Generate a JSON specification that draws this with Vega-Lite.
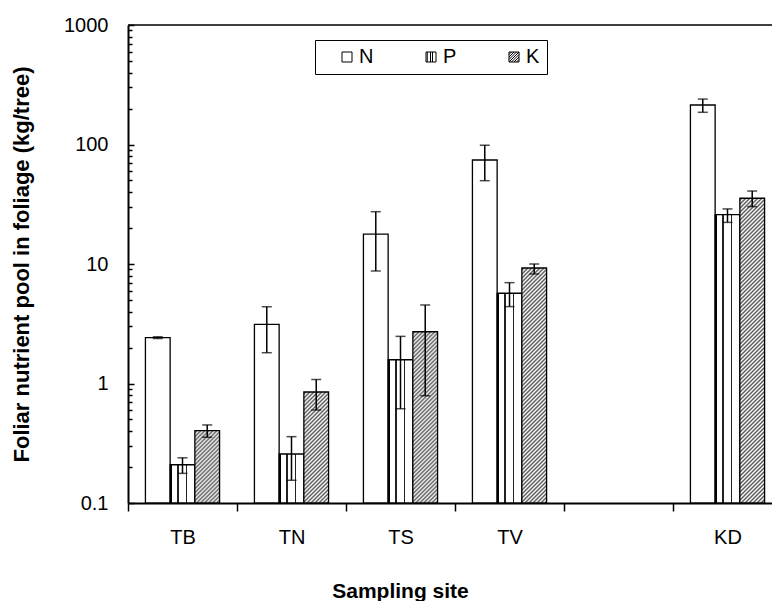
{
"$schema":"https://vega.github.io/schema/vega-lite/v6.json",
"width":644,"height":478,"autosize":"none",
"padding":{"left":128,"top":25,"right":0,"bottom":98},
"background":"white",
"config":{"view":{"stroke":null},"font":"Liberation Sans","axis":{"labelFont":"Liberation Sans","titleFont":"Liberation Sans","labelColor":"black","titleColor":"black","grid":false},"legend":{"labelFont":"Liberation Sans","titleFont":"Liberation Sans"}},
"data":{"values":[
{"site":"TB","nutrient":"N","value":2.42,"lo":2.38,"hi":2.46},
{"site":"TB","nutrient":"P","value":0.209,"lo":0.177,"hi":0.239},
{"site":"TB","nutrient":"K","value":0.403,"lo":0.355,"hi":0.45},
{"site":"TN","nutrient":"N","value":3.13,"lo":1.81,"hi":4.39},
{"site":"TN","nutrient":"P","value":0.257,"lo":0.155,"hi":0.359},
{"site":"TN","nutrient":"K","value":0.849,"lo":0.6,"hi":1.08},
{"site":"TS","nutrient":"N","value":17.8,"lo":8.74,"hi":27.4},
{"site":"TS","nutrient":"P","value":1.58,"lo":0.615,"hi":2.48},
{"site":"TS","nutrient":"K","value":2.71,"lo":0.79,"hi":4.54},
{"site":"TV","nutrient":"N","value":74.2,"lo":49.8,"hi":98.6},
{"site":"TV","nutrient":"P","value":5.69,"lo":4.4,"hi":6.98},
{"site":"TV","nutrient":"K","value":9.26,"lo":8.25,"hi":10.0},
{"site":"KD","nutrient":"N","value":214,"lo":186,"hi":240},
{"site":"KD","nutrient":"P","value":25.9,"lo":22.3,"hi":28.9},
{"site":"KD","nutrient":"K","value":35.5,"lo":30.2,"hi":40.8}
]},
"layer":[
{"mark":{"type":"bar","stroke":"black","strokeWidth":1.3},
"encoding":{
"x":{"field":"site","type":"nominal","scale":{"domain":["TB","TN","TS","TV"," ","KD"],"range":[0,654],"paddingInner":0,"paddingOuter":0},"axis":{"title":"Sampling site","titleFontSize":21,"titleFontWeight":"bold","titleX":272,"titleY":94,"titleBaseline":"alphabetic","labelFontSize":20,"labelPadding":16,"labelAngle":0,"tickBand":"extent","tickSize":8,"tickWidth":1.5,"tickColor":"black","domainWidth":2,"domainColor":"black"}},
"xOffset":{"field":"nutrient","type":"nominal","scale":{"domain":["N","P","K"],"paddingInner":0,"paddingOuter":0.705}},
"y":{"field":"value","type":"quantitative","scale":{"type":"log","domain":[0.1,1000],"nice":false},"axis":{"orient":"left","values":[0.1,1,10,100,1000],"format":"~g","tickSize":-6,"tickWidth":1.5,"tickColor":"black","domainColor":"black","domainWidth":2,"labelFontSize":20,"labelPadding":26,"title":"Foliar nutrient pool in foliage (kg/tree)","titleFontSize":22,"titleFontWeight":"bold","titleX":-100,"titleY":239,"titleBaseline":"alphabetic"}},
"y2":{"datum":0.1},
"fill":{"condition":[
{"test":"datum.nutrient === 'P'","value":{"gradient":"linear","x1":0,"y1":0,"x2":1,"y2":0,"stops":[{"offset":0,"color":"#000"},{"offset":0.08,"color":"#000"},{"offset":0.08,"color":"#fff"},{"offset":0.29,"color":"#fff"},{"offset":0.29,"color":"#222"},{"offset":0.35,"color":"#222"},{"offset":0.35,"color":"#fff"},{"offset":0.63,"color":"#fff"},{"offset":0.63,"color":"#222"},{"offset":0.69,"color":"#222"},{"offset":0.69,"color":"#fff"},{"offset":1,"color":"#fff"}]}},
{"test":"datum.nutrient === 'K' && datum.site === 'TB'","value":{"gradient":"linear","x1":0,"y1":0,"x2":0.4234,"y2":1.2384,"stops":[{"offset":0,"color":"#fff"},{"offset":0.02,"color":"#555"},{"offset":0.04,"color":"#fff"},{"offset":0.06,"color":"#555"},{"offset":0.08,"color":"#fff"},{"offset":0.1,"color":"#555"},{"offset":0.12,"color":"#fff"},{"offset":0.14,"color":"#555"},{"offset":0.16,"color":"#fff"},{"offset":0.18,"color":"#555"},{"offset":0.2,"color":"#fff"},{"offset":0.22,"color":"#555"},{"offset":0.24,"color":"#fff"},{"offset":0.26,"color":"#555"},{"offset":0.28,"color":"#fff"},{"offset":0.3,"color":"#555"},{"offset":0.32,"color":"#fff"},{"offset":0.34,"color":"#555"},{"offset":0.36,"color":"#fff"},{"offset":0.38,"color":"#555"},{"offset":0.4,"color":"#fff"},{"offset":0.42,"color":"#555"},{"offset":0.44,"color":"#fff"},{"offset":0.46,"color":"#555"},{"offset":0.48,"color":"#fff"},{"offset":0.5,"color":"#555"},{"offset":0.52,"color":"#fff"},{"offset":0.54,"color":"#555"},{"offset":0.56,"color":"#fff"},{"offset":0.58,"color":"#555"},{"offset":0.6,"color":"#fff"},{"offset":0.62,"color":"#555"},{"offset":0.64,"color":"#fff"},{"offset":0.66,"color":"#555"},{"offset":0.68,"color":"#fff"},{"offset":0.7,"color":"#555"},{"offset":0.72,"color":"#fff"},{"offset":0.74,"color":"#555"},{"offset":0.76,"color":"#fff"},{"offset":0.78,"color":"#555"},{"offset":0.8,"color":"#fff"},{"offset":0.82,"color":"#555"},{"offset":0.84,"color":"#fff"},{"offset":0.86,"color":"#555"},{"offset":0.88,"color":"#fff"},{"offset":0.9,"color":"#555"},{"offset":0.92,"color":"#fff"},{"offset":0.94,"color":"#555"},{"offset":0.96,"color":"#fff"},{"offset":0.98,"color":"#555"},{"offset":1,"color":"#fff"}]}},
{"test":"datum.nutrient === 'K' && datum.site === 'TN'","value":{"gradient":"linear","x1":0,"y1":0,"x2":0.38232,"y2":1.71673,"stops":[{"offset":0,"color":"#fff"},{"offset":0.01,"color":"#555"},{"offset":0.02,"color":"#fff"},{"offset":0.03,"color":"#555"},{"offset":0.04,"color":"#fff"},{"offset":0.05,"color":"#555"},{"offset":0.06,"color":"#fff"},{"offset":0.07,"color":"#555"},{"offset":0.08,"color":"#fff"},{"offset":0.09,"color":"#555"},{"offset":0.1,"color":"#fff"},{"offset":0.11,"color":"#555"},{"offset":0.12,"color":"#fff"},{"offset":0.13,"color":"#555"},{"offset":0.14,"color":"#fff"},{"offset":0.15,"color":"#555"},{"offset":0.16,"color":"#fff"},{"offset":0.17,"color":"#555"},{"offset":0.18,"color":"#fff"},{"offset":0.19,"color":"#555"},{"offset":0.2,"color":"#fff"},{"offset":0.21,"color":"#555"},{"offset":0.22,"color":"#fff"},{"offset":0.23,"color":"#555"},{"offset":0.24,"color":"#fff"},{"offset":0.25,"color":"#555"},{"offset":0.26,"color":"#fff"},{"offset":0.27,"color":"#555"},{"offset":0.28,"color":"#fff"},{"offset":0.29,"color":"#555"},{"offset":0.3,"color":"#fff"},{"offset":0.31,"color":"#555"},{"offset":0.32,"color":"#fff"},{"offset":0.33,"color":"#555"},{"offset":0.34,"color":"#fff"},{"offset":0.35,"color":"#555"},{"offset":0.36,"color":"#fff"},{"offset":0.37,"color":"#555"},{"offset":0.38,"color":"#fff"},{"offset":0.39,"color":"#555"},{"offset":0.4,"color":"#fff"},{"offset":0.41,"color":"#555"},{"offset":0.42,"color":"#fff"},{"offset":0.43,"color":"#555"},{"offset":0.44,"color":"#fff"},{"offset":0.45,"color":"#555"},{"offset":0.46,"color":"#fff"},{"offset":0.47,"color":"#555"},{"offset":0.48,"color":"#fff"},{"offset":0.49,"color":"#555"},{"offset":0.5,"color":"#fff"},{"offset":0.51,"color":"#555"},{"offset":0.52,"color":"#fff"},{"offset":0.53,"color":"#555"},{"offset":0.54,"color":"#fff"},{"offset":0.55,"color":"#555"},{"offset":0.56,"color":"#fff"},{"offset":0.57,"color":"#555"},{"offset":0.58,"color":"#fff"},{"offset":0.59,"color":"#555"},{"offset":0.6,"color":"#fff"},{"offset":0.61,"color":"#555"},{"offset":0.62,"color":"#fff"},{"offset":0.63,"color":"#555"},{"offset":0.64,"color":"#fff"},{"offset":0.65,"color":"#555"},{"offset":0.66,"color":"#fff"},{"offset":0.67,"color":"#555"},{"offset":0.68,"color":"#fff"},{"offset":0.69,"color":"#555"},{"offset":0.7,"color":"#fff"},{"offset":0.71,"color":"#555"},{"offset":0.72,"color":"#fff"},{"offset":0.73,"color":"#555"},{"offset":0.74,"color":"#fff"},{"offset":0.75,"color":"#555"},{"offset":0.76,"color":"#fff"},{"offset":0.77,"color":"#555"},{"offset":0.78,"color":"#fff"},{"offset":0.79,"color":"#555"},{"offset":0.8,"color":"#fff"},{"offset":0.81,"color":"#555"},{"offset":0.82,"color":"#fff"},{"offset":0.83,"color":"#555"},{"offset":0.84,"color":"#fff"},{"offset":0.85,"color":"#555"},{"offset":0.86,"color":"#fff"},{"offset":0.87,"color":"#555"},{"offset":0.88,"color":"#fff"},{"offset":0.89,"color":"#555"},{"offset":0.9,"color":"#fff"},{"offset":0.91,"color":"#555"},{"offset":0.92,"color":"#fff"},{"offset":0.93,"color":"#555"},{"offset":0.94,"color":"#fff"},{"offset":0.95,"color":"#555"},{"offset":0.96,"color":"#fff"},{"offset":0.97,"color":"#555"},{"offset":0.98,"color":"#fff"},{"offset":0.99,"color":"#555"},{"offset":1,"color":"#fff"}]}},
{"test":"datum.nutrient === 'K' && datum.site === 'TS'","value":{"gradient":"linear","x1":0,"y1":0,"x2":0.16524,"y2":1.14439,"stops":[{"offset":0,"color":"#fff"},{"offset":0.01,"color":"#555"},{"offset":0.02,"color":"#fff"},{"offset":0.03,"color":"#555"},{"offset":0.04,"color":"#fff"},{"offset":0.05,"color":"#555"},{"offset":0.06,"color":"#fff"},{"offset":0.07,"color":"#555"},{"offset":0.08,"color":"#fff"},{"offset":0.09,"color":"#555"},{"offset":0.1,"color":"#fff"},{"offset":0.11,"color":"#555"},{"offset":0.12,"color":"#fff"},{"offset":0.13,"color":"#555"},{"offset":0.14,"color":"#fff"},{"offset":0.15,"color":"#555"},{"offset":0.16,"color":"#fff"},{"offset":0.17,"color":"#555"},{"offset":0.18,"color":"#fff"},{"offset":0.19,"color":"#555"},{"offset":0.2,"color":"#fff"},{"offset":0.21,"color":"#555"},{"offset":0.22,"color":"#fff"},{"offset":0.23,"color":"#555"},{"offset":0.24,"color":"#fff"},{"offset":0.25,"color":"#555"},{"offset":0.26,"color":"#fff"},{"offset":0.27,"color":"#555"},{"offset":0.28,"color":"#fff"},{"offset":0.29,"color":"#555"},{"offset":0.3,"color":"#fff"},{"offset":0.31,"color":"#555"},{"offset":0.32,"color":"#fff"},{"offset":0.33,"color":"#555"},{"offset":0.34,"color":"#fff"},{"offset":0.35,"color":"#555"},{"offset":0.36,"color":"#fff"},{"offset":0.37,"color":"#555"},{"offset":0.38,"color":"#fff"},{"offset":0.39,"color":"#555"},{"offset":0.4,"color":"#fff"},{"offset":0.41,"color":"#555"},{"offset":0.42,"color":"#fff"},{"offset":0.43,"color":"#555"},{"offset":0.44,"color":"#fff"},{"offset":0.45,"color":"#555"},{"offset":0.46,"color":"#fff"},{"offset":0.47,"color":"#555"},{"offset":0.48,"color":"#fff"},{"offset":0.49,"color":"#555"},{"offset":0.5,"color":"#fff"},{"offset":0.51,"color":"#555"},{"offset":0.52,"color":"#fff"},{"offset":0.53,"color":"#555"},{"offset":0.54,"color":"#fff"},{"offset":0.55,"color":"#555"},{"offset":0.56,"color":"#fff"},{"offset":0.57,"color":"#555"},{"offset":0.58,"color":"#fff"},{"offset":0.59,"color":"#555"},{"offset":0.6,"color":"#fff"},{"offset":0.61,"color":"#555"},{"offset":0.62,"color":"#fff"},{"offset":0.63,"color":"#555"},{"offset":0.64,"color":"#fff"},{"offset":0.65,"color":"#555"},{"offset":0.66,"color":"#fff"},{"offset":0.67,"color":"#555"},{"offset":0.68,"color":"#fff"},{"offset":0.69,"color":"#555"},{"offset":0.7,"color":"#fff"},{"offset":0.71,"color":"#555"},{"offset":0.72,"color":"#fff"},{"offset":0.73,"color":"#555"},{"offset":0.74,"color":"#fff"},{"offset":0.75,"color":"#555"},{"offset":0.76,"color":"#fff"},{"offset":0.77,"color":"#555"},{"offset":0.78,"color":"#fff"},{"offset":0.79,"color":"#555"},{"offset":0.8,"color":"#fff"},{"offset":0.81,"color":"#555"},{"offset":0.82,"color":"#fff"},{"offset":0.83,"color":"#555"},{"offset":0.84,"color":"#fff"},{"offset":0.85,"color":"#555"},{"offset":0.86,"color":"#fff"},{"offset":0.87,"color":"#555"},{"offset":0.88,"color":"#fff"},{"offset":0.89,"color":"#555"},{"offset":0.9,"color":"#fff"},{"offset":0.91,"color":"#555"},{"offset":0.92,"color":"#fff"},{"offset":0.93,"color":"#555"},{"offset":0.94,"color":"#fff"},{"offset":0.95,"color":"#555"},{"offset":0.96,"color":"#fff"},{"offset":0.97,"color":"#555"},{"offset":0.98,"color":"#fff"},{"offset":0.99,"color":"#555"},{"offset":1,"color":"#fff"}]}},
{"test":"datum.nutrient === 'K' && datum.site === 'TV'","value":{"gradient":"linear","x1":0,"y1":0,"x2":0.17709,"y2":1.6835,"stops":[{"offset":0,"color":"#fff"},{"offset":0.005,"color":"#555"},{"offset":0.01,"color":"#fff"},{"offset":0.015,"color":"#555"},{"offset":0.02,"color":"#fff"},{"offset":0.025,"color":"#555"},{"offset":0.03,"color":"#fff"},{"offset":0.035,"color":"#555"},{"offset":0.04,"color":"#fff"},{"offset":0.045,"color":"#555"},{"offset":0.05,"color":"#fff"},{"offset":0.055,"color":"#555"},{"offset":0.06,"color":"#fff"},{"offset":0.065,"color":"#555"},{"offset":0.07,"color":"#fff"},{"offset":0.075,"color":"#555"},{"offset":0.08,"color":"#fff"},{"offset":0.085,"color":"#555"},{"offset":0.09,"color":"#fff"},{"offset":0.095,"color":"#555"},{"offset":0.1,"color":"#fff"},{"offset":0.105,"color":"#555"},{"offset":0.11,"color":"#fff"},{"offset":0.115,"color":"#555"},{"offset":0.12,"color":"#fff"},{"offset":0.125,"color":"#555"},{"offset":0.13,"color":"#fff"},{"offset":0.135,"color":"#555"},{"offset":0.14,"color":"#fff"},{"offset":0.145,"color":"#555"},{"offset":0.15,"color":"#fff"},{"offset":0.155,"color":"#555"},{"offset":0.16,"color":"#fff"},{"offset":0.165,"color":"#555"},{"offset":0.17,"color":"#fff"},{"offset":0.175,"color":"#555"},{"offset":0.18,"color":"#fff"},{"offset":0.185,"color":"#555"},{"offset":0.19,"color":"#fff"},{"offset":0.195,"color":"#555"},{"offset":0.2,"color":"#fff"},{"offset":0.205,"color":"#555"},{"offset":0.21,"color":"#fff"},{"offset":0.215,"color":"#555"},{"offset":0.22,"color":"#fff"},{"offset":0.225,"color":"#555"},{"offset":0.23,"color":"#fff"},{"offset":0.235,"color":"#555"},{"offset":0.24,"color":"#fff"},{"offset":0.245,"color":"#555"},{"offset":0.25,"color":"#fff"},{"offset":0.255,"color":"#555"},{"offset":0.26,"color":"#fff"},{"offset":0.265,"color":"#555"},{"offset":0.27,"color":"#fff"},{"offset":0.275,"color":"#555"},{"offset":0.28,"color":"#fff"},{"offset":0.285,"color":"#555"},{"offset":0.29,"color":"#fff"},{"offset":0.295,"color":"#555"},{"offset":0.3,"color":"#fff"},{"offset":0.305,"color":"#555"},{"offset":0.31,"color":"#fff"},{"offset":0.315,"color":"#555"},{"offset":0.32,"color":"#fff"},{"offset":0.325,"color":"#555"},{"offset":0.33,"color":"#fff"},{"offset":0.335,"color":"#555"},{"offset":0.34,"color":"#fff"},{"offset":0.345,"color":"#555"},{"offset":0.35,"color":"#fff"},{"offset":0.355,"color":"#555"},{"offset":0.36,"color":"#fff"},{"offset":0.365,"color":"#555"},{"offset":0.37,"color":"#fff"},{"offset":0.375,"color":"#555"},{"offset":0.38,"color":"#fff"},{"offset":0.385,"color":"#555"},{"offset":0.39,"color":"#fff"},{"offset":0.395,"color":"#555"},{"offset":0.4,"color":"#fff"},{"offset":0.405,"color":"#555"},{"offset":0.41,"color":"#fff"},{"offset":0.415,"color":"#555"},{"offset":0.42,"color":"#fff"},{"offset":0.425,"color":"#555"},{"offset":0.43,"color":"#fff"},{"offset":0.435,"color":"#555"},{"offset":0.44,"color":"#fff"},{"offset":0.445,"color":"#555"},{"offset":0.45,"color":"#fff"},{"offset":0.455,"color":"#555"},{"offset":0.46,"color":"#fff"},{"offset":0.465,"color":"#555"},{"offset":0.47,"color":"#fff"},{"offset":0.475,"color":"#555"},{"offset":0.48,"color":"#fff"},{"offset":0.485,"color":"#555"},{"offset":0.49,"color":"#fff"},{"offset":0.495,"color":"#555"},{"offset":0.5,"color":"#fff"},{"offset":0.505,"color":"#555"},{"offset":0.51,"color":"#fff"},{"offset":0.515,"color":"#555"},{"offset":0.52,"color":"#fff"},{"offset":0.525,"color":"#555"},{"offset":0.53,"color":"#fff"},{"offset":0.535,"color":"#555"},{"offset":0.54,"color":"#fff"},{"offset":0.545,"color":"#555"},{"offset":0.55,"color":"#fff"},{"offset":0.555,"color":"#555"},{"offset":0.56,"color":"#fff"},{"offset":0.565,"color":"#555"},{"offset":0.57,"color":"#fff"},{"offset":0.575,"color":"#555"},{"offset":0.58,"color":"#fff"},{"offset":0.585,"color":"#555"},{"offset":0.59,"color":"#fff"},{"offset":0.595,"color":"#555"},{"offset":0.6,"color":"#fff"},{"offset":0.605,"color":"#555"},{"offset":0.61,"color":"#fff"},{"offset":0.615,"color":"#555"},{"offset":0.62,"color":"#fff"},{"offset":0.625,"color":"#555"},{"offset":0.63,"color":"#fff"},{"offset":0.635,"color":"#555"},{"offset":0.64,"color":"#fff"},{"offset":0.645,"color":"#555"},{"offset":0.65,"color":"#fff"},{"offset":0.655,"color":"#555"},{"offset":0.66,"color":"#fff"},{"offset":0.665,"color":"#555"},{"offset":0.67,"color":"#fff"},{"offset":0.675,"color":"#555"},{"offset":0.68,"color":"#fff"},{"offset":0.685,"color":"#555"},{"offset":0.69,"color":"#fff"},{"offset":0.695,"color":"#555"},{"offset":0.7,"color":"#fff"},{"offset":0.705,"color":"#555"},{"offset":0.71,"color":"#fff"},{"offset":0.715,"color":"#555"},{"offset":0.72,"color":"#fff"},{"offset":0.725,"color":"#555"},{"offset":0.73,"color":"#fff"},{"offset":0.735,"color":"#555"},{"offset":0.74,"color":"#fff"},{"offset":0.745,"color":"#555"},{"offset":0.75,"color":"#fff"},{"offset":0.755,"color":"#555"},{"offset":0.76,"color":"#fff"},{"offset":0.765,"color":"#555"},{"offset":0.77,"color":"#fff"},{"offset":0.775,"color":"#555"},{"offset":0.78,"color":"#fff"},{"offset":0.785,"color":"#555"},{"offset":0.79,"color":"#fff"},{"offset":0.795,"color":"#555"},{"offset":0.8,"color":"#fff"},{"offset":0.805,"color":"#555"},{"offset":0.81,"color":"#fff"},{"offset":0.815,"color":"#555"},{"offset":0.82,"color":"#fff"},{"offset":0.825,"color":"#555"},{"offset":0.83,"color":"#fff"},{"offset":0.835,"color":"#555"},{"offset":0.84,"color":"#fff"},{"offset":0.845,"color":"#555"},{"offset":0.85,"color":"#fff"},{"offset":0.855,"color":"#555"},{"offset":0.86,"color":"#fff"},{"offset":0.865,"color":"#555"},{"offset":0.87,"color":"#fff"},{"offset":0.875,"color":"#555"},{"offset":0.88,"color":"#fff"},{"offset":0.885,"color":"#555"},{"offset":0.89,"color":"#fff"},{"offset":0.895,"color":"#555"},{"offset":0.9,"color":"#fff"},{"offset":0.905,"color":"#555"},{"offset":0.91,"color":"#fff"},{"offset":0.915,"color":"#555"},{"offset":0.92,"color":"#fff"},{"offset":0.925,"color":"#555"},{"offset":0.93,"color":"#fff"},{"offset":0.935,"color":"#555"},{"offset":0.94,"color":"#fff"},{"offset":0.945,"color":"#555"},{"offset":0.95,"color":"#fff"},{"offset":0.955,"color":"#555"},{"offset":0.96,"color":"#fff"},{"offset":0.965,"color":"#555"},{"offset":0.97,"color":"#fff"},{"offset":0.975,"color":"#555"},{"offset":0.98,"color":"#fff"},{"offset":0.985,"color":"#555"},{"offset":0.99,"color":"#fff"},{"offset":0.995,"color":"#555"},{"offset":1,"color":"#fff"}]}},
{"test":"datum.nutrient === 'K' && datum.site === 'KD'","value":{"gradient":"linear","x1":0,"y1":0,"x2":0.10574,"y2":1.30375,"stops":[{"offset":0,"color":"#fff"},{"offset":0.005,"color":"#555"},{"offset":0.01,"color":"#fff"},{"offset":0.015,"color":"#555"},{"offset":0.02,"color":"#fff"},{"offset":0.025,"color":"#555"},{"offset":0.03,"color":"#fff"},{"offset":0.035,"color":"#555"},{"offset":0.04,"color":"#fff"},{"offset":0.045,"color":"#555"},{"offset":0.05,"color":"#fff"},{"offset":0.055,"color":"#555"},{"offset":0.06,"color":"#fff"},{"offset":0.065,"color":"#555"},{"offset":0.07,"color":"#fff"},{"offset":0.075,"color":"#555"},{"offset":0.08,"color":"#fff"},{"offset":0.085,"color":"#555"},{"offset":0.09,"color":"#fff"},{"offset":0.095,"color":"#555"},{"offset":0.1,"color":"#fff"},{"offset":0.105,"color":"#555"},{"offset":0.11,"color":"#fff"},{"offset":0.115,"color":"#555"},{"offset":0.12,"color":"#fff"},{"offset":0.125,"color":"#555"},{"offset":0.13,"color":"#fff"},{"offset":0.135,"color":"#555"},{"offset":0.14,"color":"#fff"},{"offset":0.145,"color":"#555"},{"offset":0.15,"color":"#fff"},{"offset":0.155,"color":"#555"},{"offset":0.16,"color":"#fff"},{"offset":0.165,"color":"#555"},{"offset":0.17,"color":"#fff"},{"offset":0.175,"color":"#555"},{"offset":0.18,"color":"#fff"},{"offset":0.185,"color":"#555"},{"offset":0.19,"color":"#fff"},{"offset":0.195,"color":"#555"},{"offset":0.2,"color":"#fff"},{"offset":0.205,"color":"#555"},{"offset":0.21,"color":"#fff"},{"offset":0.215,"color":"#555"},{"offset":0.22,"color":"#fff"},{"offset":0.225,"color":"#555"},{"offset":0.23,"color":"#fff"},{"offset":0.235,"color":"#555"},{"offset":0.24,"color":"#fff"},{"offset":0.245,"color":"#555"},{"offset":0.25,"color":"#fff"},{"offset":0.255,"color":"#555"},{"offset":0.26,"color":"#fff"},{"offset":0.265,"color":"#555"},{"offset":0.27,"color":"#fff"},{"offset":0.275,"color":"#555"},{"offset":0.28,"color":"#fff"},{"offset":0.285,"color":"#555"},{"offset":0.29,"color":"#fff"},{"offset":0.295,"color":"#555"},{"offset":0.3,"color":"#fff"},{"offset":0.305,"color":"#555"},{"offset":0.31,"color":"#fff"},{"offset":0.315,"color":"#555"},{"offset":0.32,"color":"#fff"},{"offset":0.325,"color":"#555"},{"offset":0.33,"color":"#fff"},{"offset":0.335,"color":"#555"},{"offset":0.34,"color":"#fff"},{"offset":0.345,"color":"#555"},{"offset":0.35,"color":"#fff"},{"offset":0.355,"color":"#555"},{"offset":0.36,"color":"#fff"},{"offset":0.365,"color":"#555"},{"offset":0.37,"color":"#fff"},{"offset":0.375,"color":"#555"},{"offset":0.38,"color":"#fff"},{"offset":0.385,"color":"#555"},{"offset":0.39,"color":"#fff"},{"offset":0.395,"color":"#555"},{"offset":0.4,"color":"#fff"},{"offset":0.405,"color":"#555"},{"offset":0.41,"color":"#fff"},{"offset":0.415,"color":"#555"},{"offset":0.42,"color":"#fff"},{"offset":0.425,"color":"#555"},{"offset":0.43,"color":"#fff"},{"offset":0.435,"color":"#555"},{"offset":0.44,"color":"#fff"},{"offset":0.445,"color":"#555"},{"offset":0.45,"color":"#fff"},{"offset":0.455,"color":"#555"},{"offset":0.46,"color":"#fff"},{"offset":0.465,"color":"#555"},{"offset":0.47,"color":"#fff"},{"offset":0.475,"color":"#555"},{"offset":0.48,"color":"#fff"},{"offset":0.485,"color":"#555"},{"offset":0.49,"color":"#fff"},{"offset":0.495,"color":"#555"},{"offset":0.5,"color":"#fff"},{"offset":0.505,"color":"#555"},{"offset":0.51,"color":"#fff"},{"offset":0.515,"color":"#555"},{"offset":0.52,"color":"#fff"},{"offset":0.525,"color":"#555"},{"offset":0.53,"color":"#fff"},{"offset":0.535,"color":"#555"},{"offset":0.54,"color":"#fff"},{"offset":0.545,"color":"#555"},{"offset":0.55,"color":"#fff"},{"offset":0.555,"color":"#555"},{"offset":0.56,"color":"#fff"},{"offset":0.565,"color":"#555"},{"offset":0.57,"color":"#fff"},{"offset":0.575,"color":"#555"},{"offset":0.58,"color":"#fff"},{"offset":0.585,"color":"#555"},{"offset":0.59,"color":"#fff"},{"offset":0.595,"color":"#555"},{"offset":0.6,"color":"#fff"},{"offset":0.605,"color":"#555"},{"offset":0.61,"color":"#fff"},{"offset":0.615,"color":"#555"},{"offset":0.62,"color":"#fff"},{"offset":0.625,"color":"#555"},{"offset":0.63,"color":"#fff"},{"offset":0.635,"color":"#555"},{"offset":0.64,"color":"#fff"},{"offset":0.645,"color":"#555"},{"offset":0.65,"color":"#fff"},{"offset":0.655,"color":"#555"},{"offset":0.66,"color":"#fff"},{"offset":0.665,"color":"#555"},{"offset":0.67,"color":"#fff"},{"offset":0.675,"color":"#555"},{"offset":0.68,"color":"#fff"},{"offset":0.685,"color":"#555"},{"offset":0.69,"color":"#fff"},{"offset":0.695,"color":"#555"},{"offset":0.7,"color":"#fff"},{"offset":0.705,"color":"#555"},{"offset":0.71,"color":"#fff"},{"offset":0.715,"color":"#555"},{"offset":0.72,"color":"#fff"},{"offset":0.725,"color":"#555"},{"offset":0.73,"color":"#fff"},{"offset":0.735,"color":"#555"},{"offset":0.74,"color":"#fff"},{"offset":0.745,"color":"#555"},{"offset":0.75,"color":"#fff"},{"offset":0.755,"color":"#555"},{"offset":0.76,"color":"#fff"},{"offset":0.765,"color":"#555"},{"offset":0.77,"color":"#fff"},{"offset":0.775,"color":"#555"},{"offset":0.78,"color":"#fff"},{"offset":0.785,"color":"#555"},{"offset":0.79,"color":"#fff"},{"offset":0.795,"color":"#555"},{"offset":0.8,"color":"#fff"},{"offset":0.805,"color":"#555"},{"offset":0.81,"color":"#fff"},{"offset":0.815,"color":"#555"},{"offset":0.82,"color":"#fff"},{"offset":0.825,"color":"#555"},{"offset":0.83,"color":"#fff"},{"offset":0.835,"color":"#555"},{"offset":0.84,"color":"#fff"},{"offset":0.845,"color":"#555"},{"offset":0.85,"color":"#fff"},{"offset":0.855,"color":"#555"},{"offset":0.86,"color":"#fff"},{"offset":0.865,"color":"#555"},{"offset":0.87,"color":"#fff"},{"offset":0.875,"color":"#555"},{"offset":0.88,"color":"#fff"},{"offset":0.885,"color":"#555"},{"offset":0.89,"color":"#fff"},{"offset":0.895,"color":"#555"},{"offset":0.9,"color":"#fff"},{"offset":0.905,"color":"#555"},{"offset":0.91,"color":"#fff"},{"offset":0.915,"color":"#555"},{"offset":0.92,"color":"#fff"},{"offset":0.925,"color":"#555"},{"offset":0.93,"color":"#fff"},{"offset":0.935,"color":"#555"},{"offset":0.94,"color":"#fff"},{"offset":0.945,"color":"#555"},{"offset":0.95,"color":"#fff"},{"offset":0.955,"color":"#555"},{"offset":0.96,"color":"#fff"},{"offset":0.965,"color":"#555"},{"offset":0.97,"color":"#fff"},{"offset":0.975,"color":"#555"},{"offset":0.98,"color":"#fff"},{"offset":0.985,"color":"#555"},{"offset":0.99,"color":"#fff"},{"offset":0.995,"color":"#555"},{"offset":1,"color":"#fff"}]}}
],"value":"white"}
}},
{"mark":{"type":"rule","color":"black","strokeWidth":1.5},
"encoding":{
"x":{"field":"site","type":"nominal","scale":{"domain":["TB","TN","TS","TV"," ","KD"],"range":[0,654],"paddingInner":0,"paddingOuter":0},"axis":{"title":"Sampling site","titleFontSize":21,"titleFontWeight":"bold","titleX":272,"titleY":94,"titleBaseline":"alphabetic","labelFontSize":20,"labelPadding":16,"labelAngle":0,"tickBand":"extent","tickSize":8,"tickWidth":1.5,"tickColor":"black","domainWidth":2,"domainColor":"black"}},
"xOffset":{"field":"nutrient","type":"nominal","scale":{"domain":["N","P","K"],"paddingInner":0,"paddingOuter":0.705}},
"y":{"field":"lo","type":"quantitative","scale":{"type":"log","domain":[0.1,1000],"nice":false},"axis":{"orient":"left","values":[0.2,0.3,0.4,0.5,0.6,0.7,0.8,0.9,2,3,4,5,6,7,8,9,20,30,40,50,60,70,80,90,200,300,400,500,600,700,800,900],"labels":false,"domain":false,"title":null,"tickSize":-4,"tickWidth":1.5,"tickColor":"black"}},
"y2":{"field":"hi"}
}},
{"mark":{"type":"tick","color":"black","thickness":1.5,"size":10},
"encoding":{
"x":{"field":"site","type":"nominal","scale":{"domain":["TB","TN","TS","TV"," ","KD"],"range":[0,654],"paddingInner":0,"paddingOuter":0},"axis":{"title":"Sampling site","titleFontSize":21,"titleFontWeight":"bold","titleX":272,"titleY":94,"titleBaseline":"alphabetic","labelFontSize":20,"labelPadding":16,"labelAngle":0,"tickBand":"extent","tickSize":8,"tickWidth":1.5,"tickColor":"black","domainWidth":2,"domainColor":"black"}},
"xOffset":{"field":"nutrient","type":"nominal","scale":{"domain":["N","P","K"],"paddingInner":0,"paddingOuter":0.705}},
"y":{"field":"hi","type":"quantitative","scale":{"type":"log","domain":[0.1,1000],"nice":false},"axis":null}
}},
{"mark":{"type":"tick","color":"black","thickness":1.5,"size":10},
"encoding":{
"x":{"field":"site","type":"nominal","scale":{"domain":["TB","TN","TS","TV"," ","KD"],"range":[0,654],"paddingInner":0,"paddingOuter":0},"axis":{"title":"Sampling site","titleFontSize":21,"titleFontWeight":"bold","titleX":272,"titleY":94,"titleBaseline":"alphabetic","labelFontSize":20,"labelPadding":16,"labelAngle":0,"tickBand":"extent","tickSize":8,"tickWidth":1.5,"tickColor":"black","domainWidth":2,"domainColor":"black"}},
"xOffset":{"field":"nutrient","type":"nominal","scale":{"domain":["N","P","K"],"paddingInner":0,"paddingOuter":0.705}},
"y":{"field":"lo","type":"quantitative","scale":{"type":"log","domain":[0.1,1000],"nice":false},"axis":null}
}},
{"mark":{"type":"point","color":"black","filled":false,"size":0,"opacity":0},
"encoding":{
"x":{"field":"site","type":"nominal","scale":{"domain":["TB","TN","TS","TV"," ","KD"],"range":[0,654],"paddingInner":0,"paddingOuter":0},"axis":{"title":"Sampling site","titleFontSize":21,"titleFontWeight":"bold","titleX":272,"titleY":94,"titleBaseline":"alphabetic","labelFontSize":20,"labelPadding":16,"labelAngle":0,"tickBand":"extent","tickSize":8,"tickWidth":1.5,"tickColor":"black","domainWidth":2,"domainColor":"black"}},
"xOffset":{"field":"nutrient","type":"nominal","scale":{"domain":["N","P","K"],"paddingInner":0,"paddingOuter":0.705}},
"y":{"field":"value","type":"quantitative","scale":{"type":"log","domain":[0.1,1000],"nice":false},"axis":null},
"shape":{"field":"nutrient","type":"nominal","scale":{"domain":["N","P","K"],"range":["M-1,-1H1V1H-1Z","M-1,-1H1V1H-1Z M-0.75,-1V1 M-0.1,-1V1 M0.3,-1V1","M-1,-1H1V1H-1Z M-1,-0.5L-0.5,-1 M-1,0L0,-1 M-1,0.5L0.5,-1 M-1,1L1,-1 M-0.5,1L1,-0.5 M0,1L1,0 M0.5,1L1,0.5"]},
"legend":{"title":" ","titleOrient":"left","titlePadding":15,"titleFontSize":20,"orient":"none","legendX":187,"legendY":15,"direction":"horizontal","symbolSize":100,"symbolOpacity":1,"symbolStrokeWidth":1,"symbolStrokeColor":"black","symbolFillColor":"white","labelFontSize":20,"labelColor":"black","labelOffset":2,"columnPadding":47,"padding":7,"strokeColor":"black","fillColor":"white"}}
}},
{"data":{"values":[{}]},"mark":{"type":"rule","color":"black","strokeWidth":1.5},
"encoding":{"y":{"datum":1000,"type":"quantitative","scale":{"type":"log","domain":[0.1,1000],"nice":false},"axis":null}}}
],
"resolve":{"axis":{"y":"independent"}}
}
